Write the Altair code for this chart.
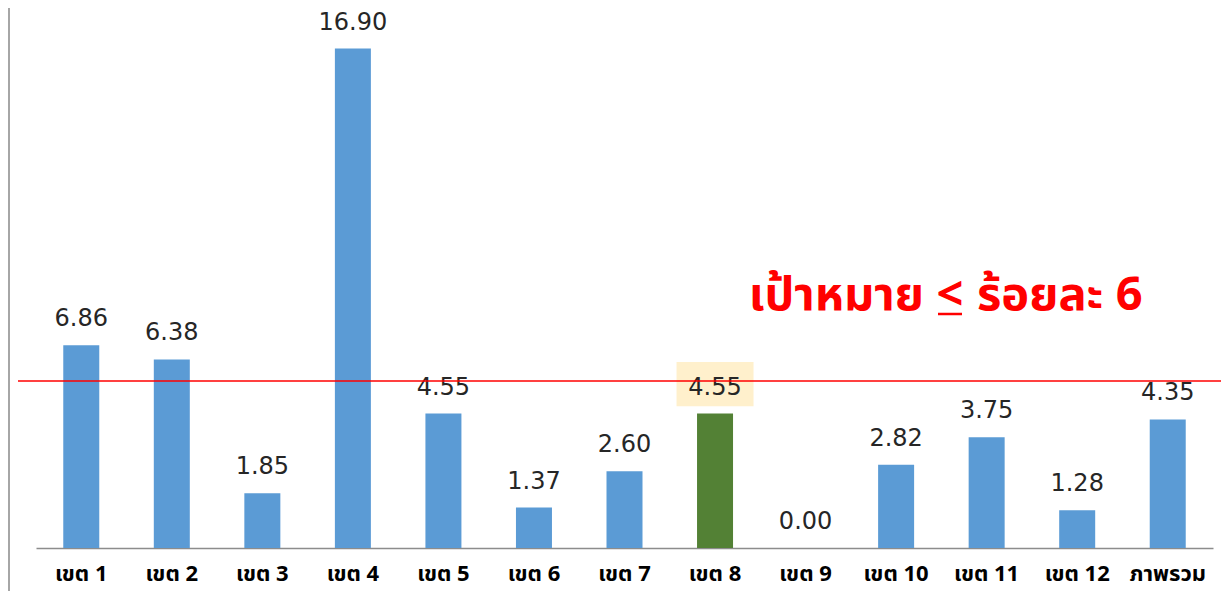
import altair as alt
import pandas as pd

categories = ["เขต 1", "เขต 2", "เขต 3", "เขต 4", "เขต 5", "เขต 6", "เขต 7",
              "เขต 8", "เขต 9", "เขต 10", "เขต 11", "เขต 12", "ภาพรวม"]
values = [6.86, 6.38, 1.85, 16.90, 4.55, 1.37, 2.60, 4.55, 0.00, 2.82, 3.75, 1.28, 4.35]
highlight_category = "เขต 8"
target_line_value = 5.65
target_title_parts = ["เป้าหมาย", "<", "ร้อยละ 6"]

W = 1177
H = 532
THAI_FONT = "Tahoma, 'Noto Sans Thai', 'Noto Sans', 'DejaVu Sans', sans-serif"

df = pd.DataFrame({"category": categories, "value": values})
df["kind"] = ["hl" if c == highlight_category else "normal" for c in categories]

y_scale = alt.Scale(domain=[0, 18])
x_axis = alt.Axis(title=None, labelAngle=0, ticks=False,
                  domainColor="#8c8c8c", domainWidth=1.5,
                  labelFont=THAI_FONT, labelFontWeight="bold",
                  labelFontSize=22, labelColor="#000000",
                  labelPadding=15)
x_enc = alt.X("category:N", sort=categories,
              scale=alt.Scale(paddingInner=0.6, paddingOuter=0.3), axis=x_axis)

base = alt.Chart(df).encode(
    x=x_enc,
    y=alt.Y("value:Q", scale=y_scale, axis=None),
)

bars = base.mark_bar(width=36).encode(
    color=alt.Color("kind:N", legend=None,
                    scale=alt.Scale(domain=["normal", "hl"],
                                    range=["#5b9bd5", "#538135"])),
)

hl_box = base.transform_filter(
    alt.datum.kind == "hl"
).transform_calculate(
    y0="datum.value + 0.25", y1="datum.value + 1.74"
).mark_bar(width=77, color="#fff0cc").encode(
    y=alt.Y("y0:Q", scale=y_scale, axis=None),
    y2="y1:Q",
)

labels = base.mark_text(baseline="alphabetic", dy=-19, font="DejaVu Sans",
                        fontSize=24, color="#262626").encode(
    text=alt.Text("value:Q", format=".2f"),
)

target = alt.Chart(pd.DataFrame({"t": [target_line_value]})).mark_rule(
    color="#ff0000", strokeWidth=1.5
).encode(y=alt.Y("t:Q", scale=y_scale, axis=None),
         x=alt.value(-18), x2=alt.value(W + 8))

left_border = alt.Chart(pd.DataFrame({"a": [0]})).mark_rule(
    color="#a6a6a6", strokeWidth=2
).encode(x=alt.value(-27), y=alt.value(-8), y2=alt.value(H + 43))

title_df = pd.DataFrame({"s": target_title_parts})
TITLE_SIZE = 47
t1 = alt.Chart(title_df).transform_filter(alt.datum.s == target_title_parts[0]).mark_text(
    align="right", baseline="alphabetic",
    font=THAI_FONT, fontSize=TITLE_SIZE, fontWeight="bold", color="#ff0000"
).encode(text="s:N", x=alt.value(888), y=alt.value(294))
t2 = alt.Chart(title_df).transform_filter(alt.datum.s == target_title_parts[1]).mark_text(
    align="center", baseline="alphabetic",
    font=THAI_FONT, fontSize=TITLE_SIZE, fontWeight="bold", color="#ff0000"
).encode(text="s:N", x=alt.value(914), y=alt.value(294))
t3 = alt.Chart(title_df).transform_filter(alt.datum.s == target_title_parts[2]).mark_text(
    align="left", baseline="alphabetic",
    font=THAI_FONT, fontSize=TITLE_SIZE, fontWeight="bold", color="#ff0000"
).encode(text="s:N", x=alt.value(941), y=alt.value(294))
underline = alt.Chart(pd.DataFrame({"a": [0]})).mark_rule(
    color="#ff0000", strokeWidth=2.5
).encode(x=alt.value(902), x2=alt.value(926), y=alt.value(298))

chart = alt.layer(
    hl_box, bars, labels, target, left_border, t1, t2, t3, underline
).properties(
    width=W, height=H,
    background="#ffffff",
    autosize=alt.AutoSizeParams(type="none"),
    padding={"left": 28, "top": 8, "right": 8, "bottom": 43},
).configure_view(stroke=None)

chart.save("out.html", embed_options={"renderer": "svg", "actions": False})
